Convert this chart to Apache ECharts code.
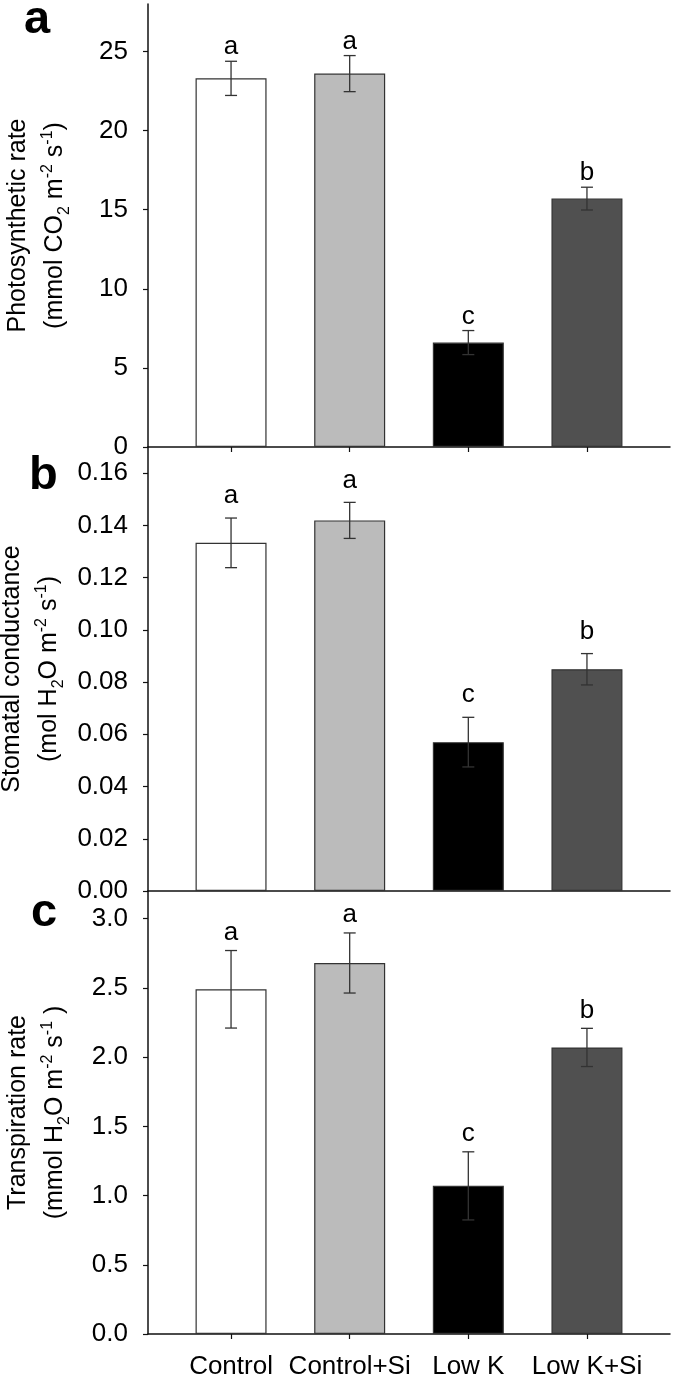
<!DOCTYPE html>
<html><head><meta charset="utf-8">
<script src="https://cdn.jsdelivr.net/npm/echarts@6/dist/echarts.min.js"></script>
<style>html,body{margin:0;padding:0;background:#fff}#c{width:675px;height:1382px}</style>
</head><body><div id="c"></div>
<script>
// ---- data ----
const categories = ['Control', 'Control+Si', 'Low K', 'Low K+Si'];
const letters = ['a', 'a', 'c', 'b'];
const photoMean = [23.3, 23.6, 6.6, 15.7];
const photoSE = [1.08, 1.14, 0.76, 0.72];
const condMean = [0.1333, 0.1419, 0.057, 0.0849];
const condSE = [0.0095, 0.0069, 0.0095, 0.006];
const transMean = [2.49, 2.68, 1.07, 2.07];
const transSE = [0.28, 0.217, 0.246, 0.138];
const photoTicks = [0, 5, 10, 15, 20, 25];
const condTicks = [0, 0.02, 0.04, 0.06, 0.08, 0.10, 0.12, 0.14, 0.16];
const transTicks = [0, 0.5, 1.0, 1.5, 2.0, 2.5, 3.0];
const catPositions = [0, 1, 2, 3];

// ---- style ----
const FONT = 'Liberation Sans, Arial, sans-serif';
const barColors = ['#ffffff', '#bbbbbb', '#000000', '#505050'];
const panels = [
  { mean: photoMean, se: photoSE, ticks: photoTicks, max: 28, dec: 0, top: 4, height: 443, ticksX: true, labelsX: false, gap: 6,
    name: '{t|Photosynthetic rate}\n{t|(mmol CO}{sub|2}{t| m}{sup|-2}{t| s}{sup|-1}{t|)}' },
  { mean: condMean, se: condSE, ticks: condTicks, max: 0.17, dec: 2, top: 447, height: 444, ticksX: false, labelsX: false, gap: 14,
    name: '{t|Stomatal conductance}\n{t|(mol H}{sub|2}{t|O m}{sup|-2}{t| s}{sup|-1}{t|)}' },
  { mean: transMean, se: transSE, ticks: transTicks, max: 3.2, dec: 1, top: 891, height: 443, ticksX: true, labelsX: true, gap: 10,
    name: '{t|Transpiration rate}\n{t|(mmol H}{sub|2}{t|O m}{sup|-2}{t| s}{sup|-1}{t| )}' }
];

const rich = {
  t: { fontSize: 25, fontFamily: FONT, color: '#000', lineHeight: 37 },
  sup: { fontSize: 16, fontFamily: FONT, color: '#000', padding: [0, 0, 16, 0] },
  sub: { fontSize: 16, fontFamily: FONT, color: '#000', padding: [18, 0, 0, 0] }
};

const grid = [], xAxis = [], yAxis = [], series = [];
panels.forEach((p, i) => {
  grid.push({ left: 148, right: 5, top: p.top, height: p.height, containLabel: false, outerBoundsMode: 'none' });
  xAxis.push({
    type: 'value', gridIndex: i, min: -0.7, max: 3.7,
    axisLine: { show: true, onZero: false, lineStyle: { color: '#111', width: 1.5 } },
    axisTick: { show: p.ticksX, customValues: catPositions, length: 5, inside: false, lineStyle: { color: '#111', width: 1.2 } },
    axisLabel: { show: p.labelsX, customValues: catPositions, formatter: v => categories[Math.round(v)],
      fontSize: 26, fontFamily: FONT, color: '#000', margin: 20 },
    splitLine: { show: false }
  });
  yAxis.push({
    type: 'value', gridIndex: i, min: 0, max: p.max,
    name: p.name, nameLocation: 'middle', nameRotate: 90, nameGap: 74,
    nameTextStyle: { rich: rich, align: 'center' },
    axisLine: { show: true, onZero: false, lineStyle: { color: '#111', width: 1.5 } },
    axisTick: { show: true, customValues: p.ticks, length: 5, inside: false, lineStyle: { color: '#111', width: 1.2 } },
    axisLabel: { show: true, customValues: p.ticks, formatter: v => Number(v).toFixed(p.dec),
      fontSize: 26, fontFamily: FONT, color: '#000', margin: 20 },
    splitLine: { show: false }
  });
  series.push({
    type: 'bar', xAxisIndex: i, yAxisIndex: i, barWidth: 71,
    data: p.mean.map((v, k) => ({ value: [catPositions[k], v], itemStyle: { color: barColors[k] } })),
    itemStyle: { borderColor: '#333', borderWidth: 1.2 },
    animation: false, silent: true
  });
  series.push({
    type: 'custom', xAxisIndex: i, yAxisIndex: i, z: 5, animation: false, silent: true,
    data: p.mean.map((v, k) => [catPositions[k], v - p.se[k], v + p.se[k]]),
    renderItem: (params, api) => {
      const x = api.value(0);
      const lo = api.coord([x, api.value(1)]);
      const hi = api.coord([x, api.value(2)]);
      const cap = 6;
      const ls = { stroke: '#333', lineWidth: 1.3 };
      return { type: 'group', children: [
        { type: 'line', shape: { x1: lo[0], y1: lo[1], x2: hi[0], y2: hi[1] }, style: ls },
        { type: 'line', shape: { x1: hi[0] - cap, y1: hi[1], x2: hi[0] + cap, y2: hi[1] }, style: ls },
        { type: 'line', shape: { x1: lo[0] - cap, y1: lo[1], x2: lo[0] + cap, y2: lo[1] }, style: ls },
        { type: 'text', x: hi[0], y: hi[1] - p.gap + 5, style: { text: letters[params.dataIndex], fontSize: 26,
          fontFamily: FONT, fill: '#000', align: 'center', verticalAlign: 'bottom' } }
      ] };
    }
  });
});

const title = [
  { text: 'a', left: 24, top: -3 },
  { text: 'b', left: 29, top: 453 },
  { text: 'c', left: 31, top: 890 }
].map(t => Object.assign(t, { padding: 0, textStyle: { fontSize: 47, fontWeight: 'bold', fontFamily: FONT, color: '#000' } }));

const chart = echarts.init(document.getElementById('c'), null, { renderer: 'canvas' });
chart.setOption({ animation: false, backgroundColor: '#fff', title, grid, xAxis, yAxis, series });
</script>
</body></html>
